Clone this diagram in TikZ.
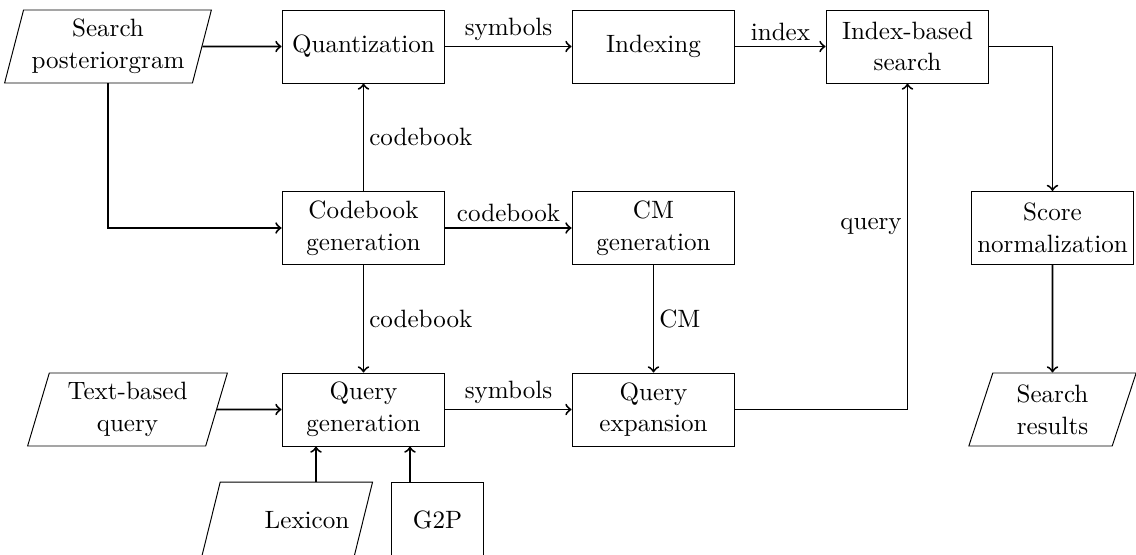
\documentclass[tikz,border=0pt]{standalone}
\usetikzlibrary{shapes.geometric,calc}
\begin{document}
\begin{tikzpicture}[x=0.415pt, y=-0.415pt,
  every node/.style={font=\fontsize{10.4pt}{13.2pt}\selectfont},
  box/.style={draw, rectangle, align=center, minimum width=67.6pt, minimum height=30.3pt},
  io/.style={draw, trapezium, trapezium left angle=75, trapezium right angle=105,
    trapezium stretches=true, align=center, minimum height=30.3pt},
  arr/.style={->, thick},
  lbl/.style={inner sep=2pt}]
\useasboundingbox (0,0) rectangle (1136,555);

% top row
\node[io, minimum width=83.4pt] (post) at (108,46.5) {Search\\posteriorgram};
\node[box] (quant) at (363.5,46.5) {Quantization};
\node[box] (index) at (653.5,46.5) {Indexing};
\node[box] (ibs) at (907.5,46.5) {Index-based\\search};

% middle row
\node[box] (cbg) at (363.5,228) {Codebook\\generation};
\node[box] (cmg) at (653.5,228) {CM\\generation};
\node[box, inner xsep=2.5pt] (score) at (1052.5,228) {Score\\normalization};

% bottom row
\node[io, minimum width=83.4pt] (tq) at (127.5,409.5) {Text-based\\query};
\node[box] (qgen) at (363.5,409.5) {Query\\generation};
\node[box] (qexp) at (653.5,409.5) {Query\\expansion};
\node[io, minimum width=69.7pt] (res) at (1052.5,409.5) {Search\\results};

% resources below query generation
\node[io, trapezium left angle=82, trapezium right angle=98,
  minimum width=71pt, minimum height=31.5pt] (lex) at (287,520) {};
\node (lextxt) at (307,520) {Lexicon};
\node[box, minimum width=37.8pt, minimum height=31.5pt] (g2p) at (437.5,520) {G2P};

\coordinate (lexin) at ($(qgen.south)+(-47.5,0)$);
\coordinate (g2pin) at ($(qgen.south)+(46.5,0)$);

% connectors
\draw[arr] (post) -- (quant);
\draw[arr] (quant) -- node[above, lbl] {symbols} (index);
\draw[arr] (index) -- node[above, lbl] {index} (ibs);
\draw[arr] (ibs) -| (score);
\draw[arr] (score) -- (res);
\draw[arr] (post) |- (cbg);
\draw[arr] (cbg) -- node[right, lbl] {codebook} (quant);
\draw[arr] (cbg) -- node[above, lbl] {codebook} (cmg);
\draw[arr] (cbg) -- node[right, lbl] {codebook} (qgen);
\draw[arr] (cmg) -- node[right, lbl] {CM} (qexp);
\draw[arr] (tq) -- (qgen);
\draw[arr] (qgen) -- node[above, lbl] {symbols} (qexp);
\draw[arr] (qexp) -| node[pos=0.78, left, lbl] {query} (ibs);
\draw[arr] (lexin |- lex.north) -- (lexin);
\draw[arr] (g2pin |- g2p.north) -- (g2pin);
\end{tikzpicture}
\end{document}
